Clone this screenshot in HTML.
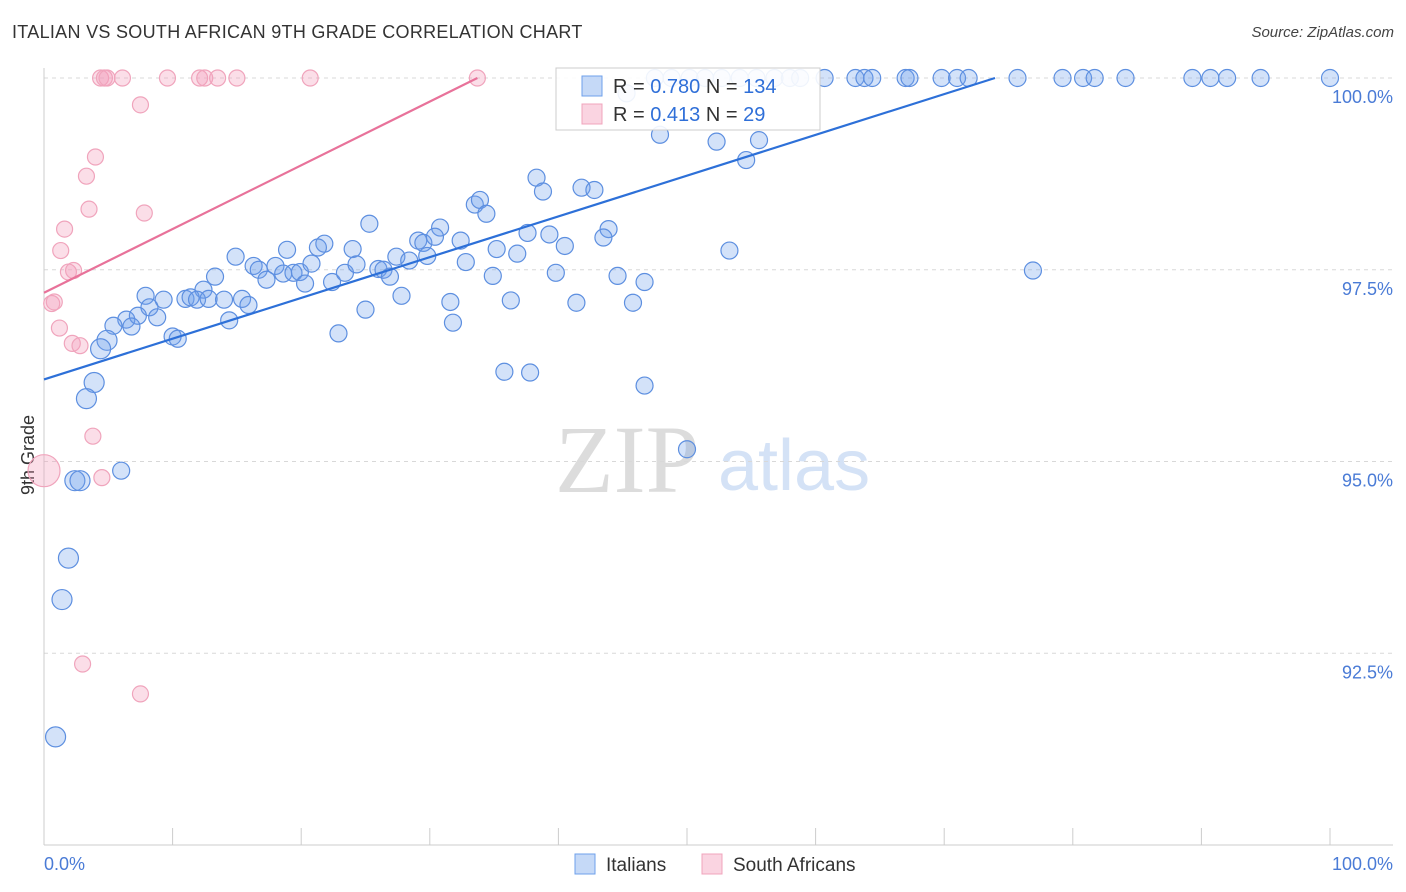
<!DOCTYPE html>
<html><head><meta charset="utf-8"><style>
body{margin:0;background:#fff;font-family:"Liberation Sans",sans-serif;}
#wrap{position:relative;width:1406px;height:892px;overflow:hidden;}
.t{position:absolute;white-space:nowrap;}
</style></head><body>
<div id="wrap">
<div class="t" style="left:12px;top:22px;font-size:18px;color:#333;letter-spacing:0.3px">ITALIAN VS SOUTH AFRICAN 9TH GRADE CORRELATION CHART</div>
<div class="t" style="right:12px;top:24px;font-size:15px;color:#444;font-style:italic">Source: ZipAtlas.com</div>
<svg id="svg" width="1406" height="892" style="position:absolute;left:0;top:0"></svg>
</div>
<script>
const blueX=[47.5,48.8,50.2,51.4,52.7,54.1,55.4,56.8,58.0,58.8,60.7,63.1,63.8,64.4,67.0,67.3,69.8,71.0,71.9,75.7,79.2,80.8,81.7,84.1,89.3,90.7,92.0,94.6,100,
45.3,47.9,52.3,55.6,54.6,38.3,38.8,41.8,42.8,33.5,33.9,34.4,25.3,30.8,43.9,37.6,39.3,40.5,43.5,53.3,76.9,32.4,29.1,29.5,30.4,35.2,36.8,27.4,28.4,29.8,24.0,21.8,21.3,18.9,14.9,16.3,16.7,18.0,17.3,18.6,19.4,19.9,20.8,20.3,22.4,23.4,24.3,26.0,26.4,26.9,32.8,34.9,39.8,44.6,46.7,13.3,12.4,7.9,9.3,11.0,11.4,11.9,12.8,14.0,15.4,15.9,8.2,8.8,6.4,7.3,5.4,6.8,14.4,25.0,27.8,31.6,36.3,41.4,45.8,31.8,22.9,10.0,10.4,4.9,4.4,3.9,3.3,35.8,37.8,46.7,50.0,6.0,2.4,2.8,1.9,1.4,0.9];
const blueY=[100,100,100,100,100,100,100,100,100,100,100,100,100,100,100,100,100,100,100,100,100,100,100,100,100,100,100,100,100,
99.80,99.26,99.17,99.19,98.93,98.70,98.52,98.57,98.54,98.35,98.41,98.23,98.10,98.05,98.03,97.98,97.96,97.81,97.92,97.75,97.49,97.88,97.88,97.85,97.93,97.77,97.71,97.67,97.62,97.68,97.77,97.84,97.79,97.76,97.67,97.55,97.50,97.55,97.37,97.45,97.46,97.47,97.58,97.32,97.34,97.46,97.57,97.51,97.50,97.41,97.60,97.42,97.46,97.42,97.34,97.41,97.24,97.16,97.11,97.12,97.14,97.11,97.12,97.11,97.12,97.04,97.01,96.88,96.85,96.90,96.77,96.76,96.84,96.98,97.16,97.08,97.10,97.07,97.07,96.81,96.67,96.63,96.60,96.58,96.47,96.03,95.82,96.17,96.16,95.99,95.16,94.88,94.75,94.75,93.74,93.20,91.41];
const pinkX=[4.4,4.7,4.9,6.1,9.6,12.1,12.5,13.5,15.0,20.7,33.7,7.5,4.0,3.3,3.5,7.8,1.6,1.3,1.9,2.3,0.6,0.8,1.2,2.2,2.8,3.8,0,4.5,3.0,7.5];
const pinkY=[100,100,100,100,100,100,100,100,100,100,100,99.65,98.97,98.72,98.29,98.24,98.03,97.75,97.47,97.49,97.06,97.08,96.74,96.54,96.51,95.33,94.88,94.79,92.36,91.97];
const blueTrend=[96.07,100.0/1];const blueTrendEndX=73.95;
const pinkTrend=[97.20];const pinkTrendEndX=33.7;
const yTicks=[100,97.5,95,92.5];
const yTickLabels=["100.0%","97.5%","95.0%","92.5%"];
const xTickCount=10;

const NS="http://www.w3.org/2000/svg";
const svg=document.getElementById('svg');
const X0=44,X1=1330,YT=78,YB=845;
const sx=v=>X0+(v/100)*(X1-X0);
const sy=v=>YT+(100-v)*(YB-YT)/10;
function mk(tag,at,parent){const e=document.createElementNS(NS,tag);for(const k in at)e.setAttribute(k,at[k]);(parent||svg).appendChild(e);return e;}

// watermark
let wm=mk('text',{x:555,y:492,'font-family':'Liberation Serif,serif','font-size':96,fill:'#dcdcdc'});wm.textContent='ZIP';

let wm2=mk('text',{x:718,y:490,'font-family':'Liberation Sans,sans-serif','font-size':72,fill:'#d4e2f6'});wm2.textContent='atlas';


// gridlines + y labels
yTicks.forEach((v,i)=>{
 const g=mk('line',{x1:X0,x2:1393,y1:sy(v),y2:sy(v),stroke:'#d8d8d8','stroke-dasharray':'4,4'});
 
 const t=mk('text',{x:1393,y:sy(v)+25,'text-anchor':'end','font-size':18,fill:'#4a7bd6','font-family':'Liberation Sans,sans-serif'});
 t.textContent=yTickLabels[i];
 
});
// axes
let ax=mk('line',{x1:X0,x2:X0,y1:68,y2:YB,stroke:'#ccc'});
let bx=mk('line',{x1:X0,x2:1393,y1:YB,y2:YB,stroke:'#ccc'});
for(let i=0;i<=xTickCount;i++){const v=i*100/xTickCount;
 const tk=mk('line',{x1:sx(v),x2:sx(v),y1:828,y2:YB,stroke:'#ccc'});
 }
let xl=mk('text',{x:44,y:870,'font-size':18,fill:'#4a7bd6'});xl.textContent='0.0%';
let xr=mk('text',{x:1393,y:870,'font-size':18,fill:'#4a7bd6','text-anchor':'end'});xr.textContent='100.0%';
let yt=mk('text',{x:34,y:455,'font-size':18,fill:'#333','text-anchor':'middle',transform:'rotate(-90 34 455)'});yt.textContent='9th Grade';


// points
pinkX.forEach((x,i)=>{const r=(x===0)?16:8;
 const c=mk('circle',{cx:sx(x),cy:sy(pinkY[i]),r:r,fill:'rgba(244,160,188,0.35)',stroke:'#f0a4bc','stroke-width':1.2});
 });
blueX.forEach((x,i)=>{const r=(x<5)?10:8.5;
 const c=mk('circle',{cx:sx(x),cy:sy(blueY[i]),r:r,fill:'rgba(110,160,235,0.3)',stroke:'#5d8fe0','stroke-width':1.2});
 });
// trend lines
let bl=mk('line',{x1:sx(0),y1:sy(blueTrend[0]),x2:sx(blueTrendEndX),y2:sy(100),stroke:'#2d70d8','stroke-width':2.2});

let pl=mk('line',{x1:sx(0),y1:sy(pinkTrend[0]),x2:sx(pinkTrendEndX),y2:sy(100),stroke:'#e8729a','stroke-width':2.2});


// legend box
let lg=mk('rect',{x:556,y:68,width:264,height:62,fill:'rgba(255,255,255,0.9)',stroke:'#ccc'});

const rows=[['#6ea0eb','rgba(110,160,235,0.4)','0.780','134',86],['#f0a4bc','rgba(244,160,188,0.45)','0.413','29',114]];
rows.forEach(r=>{
 const s=mk('rect',{x:582,y:r[4]-10,width:20,height:20,fill:r[1],stroke:r[0]});
 
 const t=mk('text',{x:613,y:r[4]+7,'font-size':20,fill:'#333'});
 t.innerHTML='R = <tspan fill="#2f6fd8">'+r[2]+'</tspan>   N = <tspan fill="#2f6fd8">'+r[3]+'</tspan>';
 t.setAttribute('xml:space','preserve');
 
});
// bottom legend
[['rgba(110,160,235,0.4)','#6ea0eb','Italians',575],['rgba(244,160,188,0.45)','#f0a4bc','South Africans',702]].forEach(l=>{
 const s=mk('rect',{x:l[3],y:854,width:20,height:20,fill:l[0],stroke:l[1]});
 
 const t=mk('text',{x:l[3]+31,y:871,'font-size':19,fill:'#333'});t.textContent=l[2];
 
});
</script>
</body></html>
